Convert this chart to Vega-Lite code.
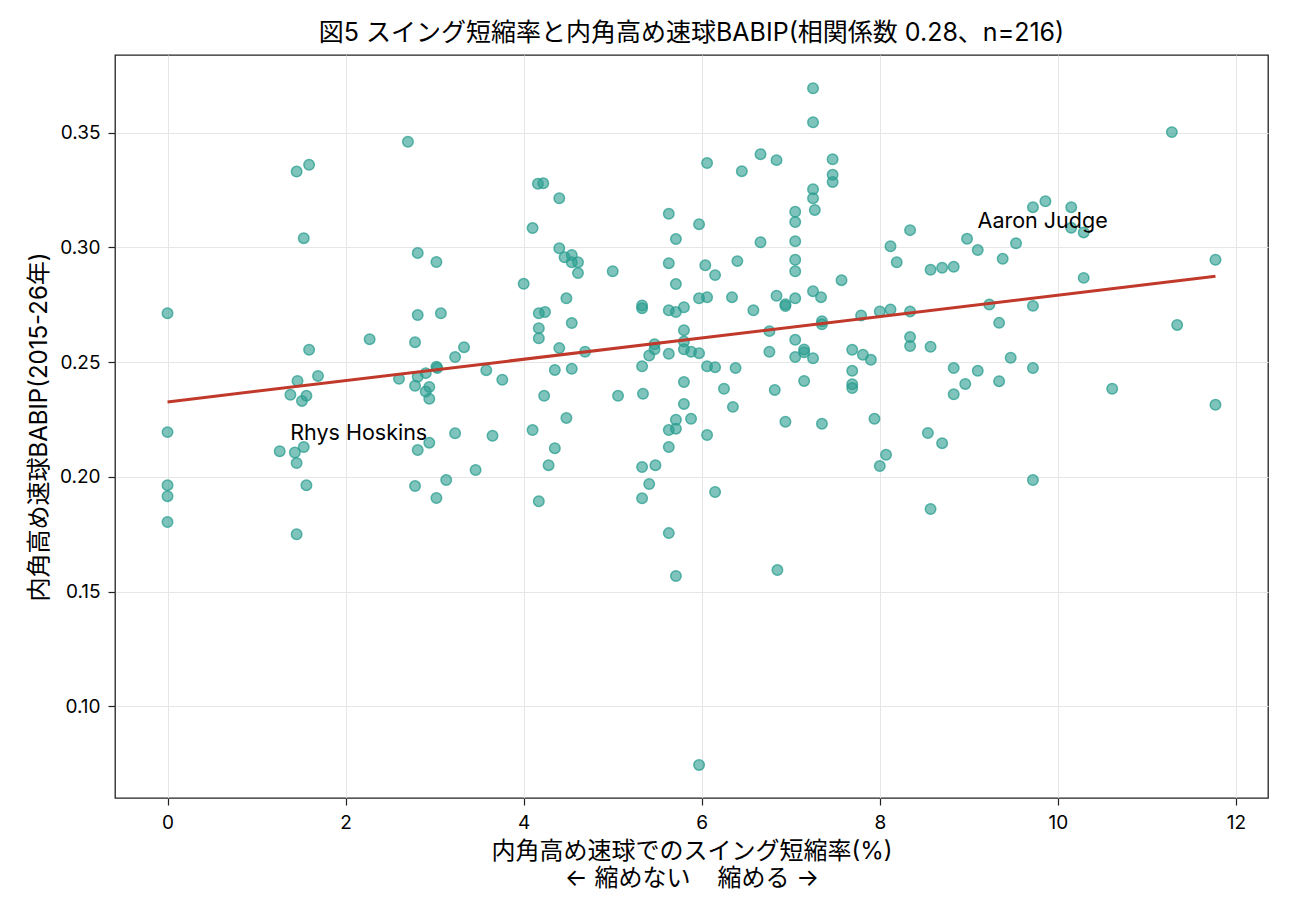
{
  "$schema": "https://vega.github.io/schema/vega-lite/v6.json",
  "width": 1153,
  "height": 743,
  "autosize": {"type": "none"},
  "padding": {"left": 115, "top": 55, "right": 22, "bottom": 117},
  "background": "white",
  "config": {
    "font": "Inter, Noto Sans CJK JP",
    "view": {"stroke": "#222222", "strokeWidth": 1.3},
    "axis": {
      "domain": false,
      "grid": true,
      "gridColor": "#e6e6e6",
      "gridWidth": 1,
      "tickColor": "#222222",
      "tickSize": 7,
      "tickWidth": 1.2,
      "labelFontSize": 19,
      "labelColor": "#000000",
      "labelPadding": 8,
      "titleFontSize": 24,
      "titleFontWeight": "normal",
      "titleColor": "#000000"
    }
  },
  "title": {
    "text": "図5 スイング短縮率と内角高め速球BABIP(相関係数 0.28、n=216)",
    "fontSize": 25,
    "fontWeight": "normal",
    "color": "#000000",
    "anchor": "middle",
    "offset": 9
  },
  "datasets": {
    "pts": [
      {"x": 2.70, "y": 0.346}, {"x": 1.45, "y": 0.333}, {"x": 1.59, "y": 0.336}, {"x": 1.53, "y": 0.304},
      {"x": 2.81, "y": 0.2975}, {"x": 3.02, "y": 0.2936}, {"x": 0, "y": 0.2713}, {"x": 2.81, "y": 0.2705},
      {"x": 3.07, "y": 0.2713}, {"x": 2.27, "y": 0.260}, {"x": 2.78, "y": 0.2587}, {"x": 1.59, "y": 0.2554},
      {"x": 3.33, "y": 0.2565}, {"x": 3.23, "y": 0.2522}, {"x": 3.02, "y": 0.2480}, {"x": 3.03, "y": 0.2474},
      {"x": 3.58, "y": 0.2465}, {"x": 3.76, "y": 0.2423}, {"x": 1.69, "y": 0.2440}, {"x": 1.46, "y": 0.2418},
      {"x": 1.38, "y": 0.2358}, {"x": 1.56, "y": 0.2353}, {"x": 1.51, "y": 0.2331}, {"x": 2.60, "y": 0.2427},
      {"x": 2.81, "y": 0.2436}, {"x": 2.90, "y": 0.2452}, {"x": 2.78, "y": 0.2397}, {"x": 2.94, "y": 0.2392},
      {"x": 2.90, "y": 0.2372}, {"x": 2.94, "y": 0.2340}, {"x": 0, "y": 0.2195}, {"x": 3.23, "y": 0.2190},
      {"x": 3.65, "y": 0.2179}, {"x": 1.26, "y": 0.2112}, {"x": 1.43, "y": 0.2106}, {"x": 1.53, "y": 0.2130},
      {"x": 1.45, "y": 0.2060}, {"x": 1.56, "y": 0.1964}, {"x": 0, "y": 0.1964}, {"x": 0, "y": 0.1916},
      {"x": 0, "y": 0.1803}, {"x": 1.45, "y": 0.1750}, {"x": 2.81, "y": 0.2117}, {"x": 2.94, "y": 0.2149},
      {"x": 3.46, "y": 0.2030}, {"x": 3.13, "y": 0.1986}, {"x": 2.78, "y": 0.1960}, {"x": 3.02, "y": 0.1908},
      {"x": 7.25, "y": 0.3693}, {"x": 7.25, "y": 0.3545}, {"x": 6.66, "y": 0.3406}, {"x": 6.84, "y": 0.3380},
      {"x": 6.06, "y": 0.3367}, {"x": 6.45, "y": 0.3332}, {"x": 7.47, "y": 0.3384}, {"x": 7.47, "y": 0.3316},
      {"x": 7.47, "y": 0.3285}, {"x": 7.25, "y": 0.3253}, {"x": 7.25, "y": 0.3214}, {"x": 7.27, "y": 0.3163},
      {"x": 4.16, "y": 0.3277}, {"x": 4.22, "y": 0.3279}, {"x": 4.40, "y": 0.3214}, {"x": 5.63, "y": 0.3146},
      {"x": 5.97, "y": 0.3101}, {"x": 7.05, "y": 0.3155}, {"x": 7.05, "y": 0.3110}, {"x": 4.10, "y": 0.3084},
      {"x": 5.71, "y": 0.3036}, {"x": 6.66, "y": 0.3022}, {"x": 7.05, "y": 0.3027}, {"x": 4.40, "y": 0.2996},
      {"x": 4.46, "y": 0.2957}, {"x": 4.54, "y": 0.2967}, {"x": 4.54, "y": 0.2935}, {"x": 4.61, "y": 0.2935},
      {"x": 4.61, "y": 0.2888}, {"x": 5.00, "y": 0.2896}, {"x": 5.63, "y": 0.2931}, {"x": 6.04, "y": 0.2922},
      {"x": 6.15, "y": 0.2879}, {"x": 6.40, "y": 0.2940}, {"x": 7.05, "y": 0.2946}, {"x": 7.05, "y": 0.2896},
      {"x": 7.57, "y": 0.2857}, {"x": 8.12, "y": 0.3005}, {"x": 8.19, "y": 0.2935}, {"x": 4.00, "y": 0.2841},
      {"x": 5.71, "y": 0.2840}, {"x": 4.48, "y": 0.2778}, {"x": 5.97, "y": 0.2778}, {"x": 6.06, "y": 0.2783},
      {"x": 6.34, "y": 0.2783}, {"x": 6.84, "y": 0.2789}, {"x": 7.05, "y": 0.2778}, {"x": 7.25, "y": 0.2809},
      {"x": 7.34, "y": 0.2783}, {"x": 6.94, "y": 0.2752}, {"x": 6.94, "y": 0.2744}, {"x": 5.33, "y": 0.2747},
      {"x": 5.33, "y": 0.2735}, {"x": 4.17, "y": 0.2713}, {"x": 4.24, "y": 0.2718}, {"x": 5.63, "y": 0.2726},
      {"x": 5.71, "y": 0.2718}, {"x": 5.80, "y": 0.2739}, {"x": 6.58, "y": 0.2726}, {"x": 7.79, "y": 0.2703},
      {"x": 8.00, "y": 0.2721}, {"x": 8.12, "y": 0.2729}, {"x": 4.17, "y": 0.2648}, {"x": 4.17, "y": 0.2604},
      {"x": 4.54, "y": 0.2670}, {"x": 5.80, "y": 0.2639}, {"x": 6.76, "y": 0.2635}, {"x": 7.35, "y": 0.2678},
      {"x": 7.35, "y": 0.2665}, {"x": 4.40, "y": 0.2561}, {"x": 4.69, "y": 0.2545}, {"x": 5.47, "y": 0.2578},
      {"x": 5.47, "y": 0.2556}, {"x": 5.41, "y": 0.2529}, {"x": 5.63, "y": 0.2536}, {"x": 5.80, "y": 0.2590},
      {"x": 5.80, "y": 0.2556}, {"x": 5.88, "y": 0.2545}, {"x": 5.97, "y": 0.2539}, {"x": 6.76, "y": 0.2545},
      {"x": 7.05, "y": 0.2597}, {"x": 7.15, "y": 0.2555}, {"x": 7.15, "y": 0.2543}, {"x": 7.05, "y": 0.2522},
      {"x": 7.25, "y": 0.2517}, {"x": 7.69, "y": 0.2554}, {"x": 7.81, "y": 0.2532}, {"x": 7.90, "y": 0.2510},
      {"x": 4.35, "y": 0.2466}, {"x": 4.54, "y": 0.2471}, {"x": 5.33, "y": 0.2482}, {"x": 6.06, "y": 0.2482},
      {"x": 6.15, "y": 0.2478}, {"x": 6.38, "y": 0.2474}, {"x": 7.69, "y": 0.2462}, {"x": 7.69, "y": 0.2404},
      {"x": 7.69, "y": 0.2387}, {"x": 7.15, "y": 0.2418}, {"x": 5.80, "y": 0.2413}, {"x": 6.25, "y": 0.2384},
      {"x": 6.82, "y": 0.2379}, {"x": 4.23, "y": 0.2353}, {"x": 5.06, "y": 0.2353}, {"x": 5.34, "y": 0.2362},
      {"x": 5.80, "y": 0.2318}, {"x": 6.35, "y": 0.2305}, {"x": 4.48, "y": 0.2257}, {"x": 5.71, "y": 0.2249},
      {"x": 5.88, "y": 0.2253}, {"x": 6.94, "y": 0.2240}, {"x": 7.35, "y": 0.2231}, {"x": 7.94, "y": 0.2253},
      {"x": 4.10, "y": 0.2204}, {"x": 5.63, "y": 0.2204}, {"x": 5.71, "y": 0.2210}, {"x": 6.06, "y": 0.2182},
      {"x": 4.35, "y": 0.2125}, {"x": 4.28, "y": 0.2051}, {"x": 4.17, "y": 0.1894}, {"x": 5.33, "y": 0.2043},
      {"x": 5.48, "y": 0.2051}, {"x": 5.41, "y": 0.1969}, {"x": 5.33, "y": 0.1907}, {"x": 5.63, "y": 0.2130},
      {"x": 5.63, "y": 0.1755}, {"x": 5.71, "y": 0.1568}, {"x": 6.15, "y": 0.1934}, {"x": 6.85, "y": 0.1594},
      {"x": 8.07, "y": 0.2096}, {"x": 8.00, "y": 0.2047}, {"x": 5.97, "y": 0.0745},
      {"x": 11.28, "y": 0.3502}, {"x": 9.72, "y": 0.3175}, {"x": 9.86, "y": 0.3201}, {"x": 10.15, "y": 0.3175},
      {"x": 10.15, "y": 0.3085}, {"x": 10.29, "y": 0.3065}, {"x": 8.34, "y": 0.3075}, {"x": 8.98, "y": 0.3037},
      {"x": 9.10, "y": 0.2988}, {"x": 9.53, "y": 0.3018}, {"x": 9.38, "y": 0.2950}, {"x": 11.77, "y": 0.2946},
      {"x": 8.57, "y": 0.2902}, {"x": 8.70, "y": 0.2911}, {"x": 8.83, "y": 0.2915}, {"x": 10.29, "y": 0.2867},
      {"x": 8.34, "y": 0.2721}, {"x": 9.23, "y": 0.2751}, {"x": 9.72, "y": 0.2745}, {"x": 9.34, "y": 0.2671},
      {"x": 11.34, "y": 0.2662}, {"x": 8.34, "y": 0.2609}, {"x": 8.34, "y": 0.2570}, {"x": 8.57, "y": 0.2567},
      {"x": 9.47, "y": 0.2519}, {"x": 8.83, "y": 0.2474}, {"x": 9.10, "y": 0.2462}, {"x": 9.72, "y": 0.2474},
      {"x": 9.34, "y": 0.2417}, {"x": 8.96, "y": 0.2405}, {"x": 8.83, "y": 0.2360}, {"x": 10.61, "y": 0.2384},
      {"x": 11.77, "y": 0.2314}, {"x": 8.54, "y": 0.2191}, {"x": 8.70, "y": 0.2147}, {"x": 9.72, "y": 0.1986},
      {"x": 8.57, "y": 0.1860}
    ],
    "labels": [
      {"x": 8.98, "y": 0.3037, "name": "Aaron Judge"},
      {"x": 1.26, "y": 0.2112, "name": "Rhys Hoskins"}
    ]
  },
  "data": {"name": "pts"},
  "layer": [
    {
      "mark": {
        "type": "point",
        "shape": "circle",
        "filled": true,
        "size": 110,
        "color": "#2a9d8f",
        "fillOpacity": 0.6,
        "stroke": "#2a9d8f",
        "strokeOpacity": 0.75,
        "strokeWidth": 1.5
      },
      "encoding": {
        "x": {
          "field": "x",
          "type": "quantitative",
          "scale": {"domain": [-0.59, 12.36], "nice": false, "zero": false},
          "axis": {
            "values": [0, 2, 4, 6, 8, 10, 12],
            "format": "d",
            "title": ["内角高め速球でのスイング短縮率(%)", "← 縮めない\u00a0\u00a0\u00a0\u00a0縮める →"],
            "titlePadding": 7,
            "titleLineHeight": 27
          }
        },
        "y": {
          "field": "y",
          "type": "quantitative",
          "scale": {"domain": [0.0601, 0.3838], "nice": false, "zero": false},
          "axis": {
            "values": [0.10, 0.15, 0.20, 0.25, 0.30, 0.35],
            "format": ".2f",
            "title": "内角高め速球BABIP(2015-26年)",
            "titlePadding": 8
          }
        }
      }
    },
    {
      "transform": [{"regression": "y", "on": "x"}],
      "mark": {"type": "line", "color": "#c0392b", "strokeWidth": 3},
      "encoding": {
        "x": {"field": "x", "type": "quantitative"},
        "y": {"field": "y", "type": "quantitative"}
      }
    },
    {
      "data": {"name": "labels"},
      "mark": {
        "type": "text",
        "align": "left",
        "baseline": "alphabetic",
        "dx": 10.5,
        "dy": -11,
        "fontSize": 21.5,
        "color": "#000000"
      },
      "encoding": {
        "x": {"field": "x", "type": "quantitative"},
        "y": {"field": "y", "type": "quantitative"},
        "text": {"field": "name"}
      }
    }
  ]
}
